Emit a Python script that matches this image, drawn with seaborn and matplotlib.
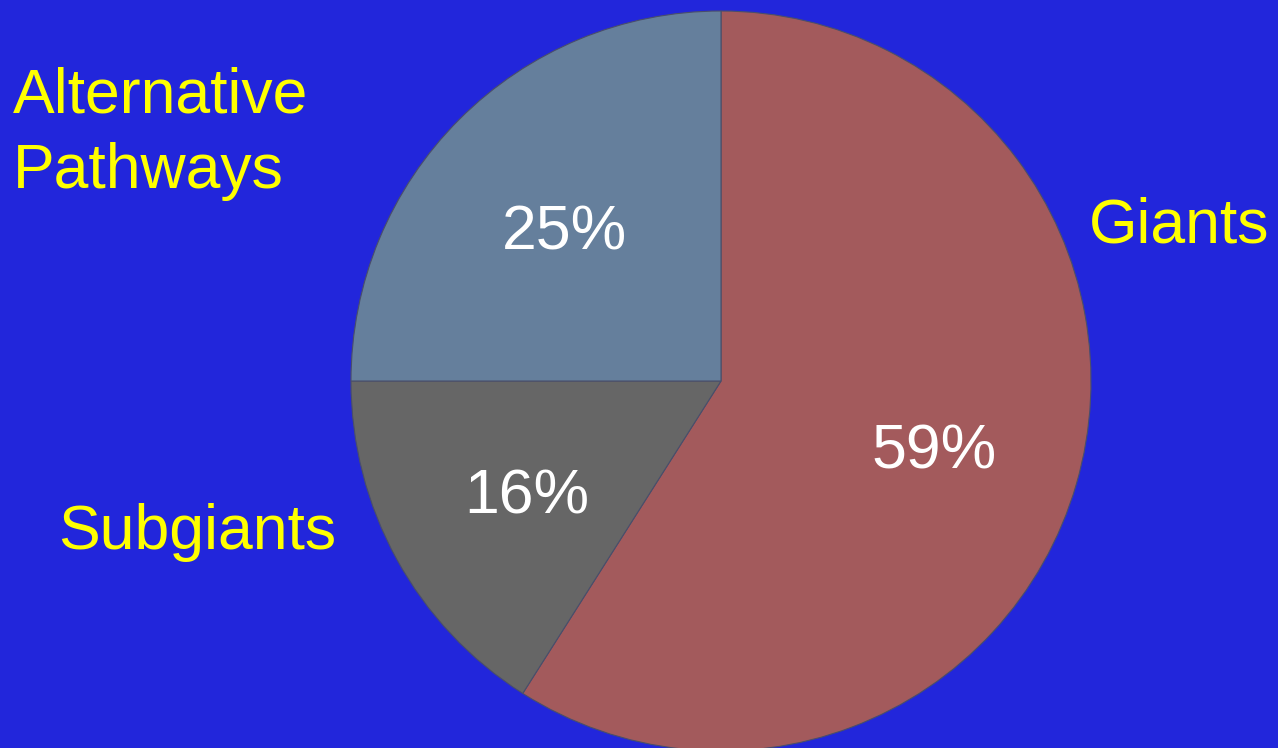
import matplotlib
matplotlib.use("Agg")
import matplotlib.pyplot as plt
import matplotlib.transforms as mtransforms
import seaborn as sns

sns.set_theme(style="white")
plt.rcParams['font.family'] = ['Liberation Sans', 'DejaVu Sans']

categories = ["Giants", "Subgiants", "Alternative\nPathways"]
values = [59, 16, 25]
colors = ["#A35A5C", "#666666", "#657F9C"]
bg = "#2226DB"

W, H = 1278, 748
fig = plt.figure(figsize=(W / 100, H / 100), dpi=100, facecolor=bg)
ax = fig.add_axes([0, 0, 1, 1])
ax.set_facecolor(bg)

wedges, texts, autotexts = ax.pie(
    values, colors=colors, startangle=90, counterclock=False,
    center=(721, H - 381), radius=370, autopct="%.0f%%", pctdistance=0.6,
    wedgeprops=dict(edgecolor="#4a4f6a", linewidth=0.8),
    textprops=dict(color="white", fontsize=45),
    frame=True,
)
ax.set_xlim(0, W)
ax.set_ylim(0, H)
ax.set_aspect("equal")
ax.axis("off")

for t in autotexts:
    t.set_transform(mtransforms.offset_copy(t.get_transform(), fig=fig,
                                            x=0, y=-9, units="dots"))

label_pos = [(1089, H - 226, "left"), (58, H - 532, "left"), (13, H - 134, "left")]
for lab, (x, y, ha) in zip(categories, label_pos):
    ax.text(x, y, lab, color="#FFFF00", fontsize=45,
            ha=ha, va="center", linespacing=1.36)

fig.savefig("out.png", dpi=100, facecolor=bg)
